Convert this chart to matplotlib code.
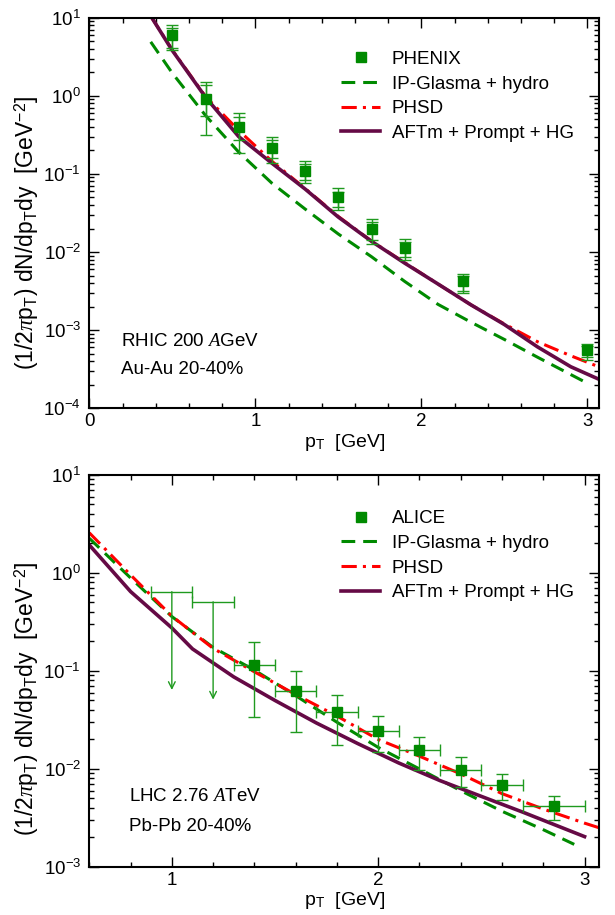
import numpy as np
import matplotlib
matplotlib.use('Agg')
import matplotlib.pyplot as plt
from matplotlib.ticker import LogLocator, MultipleLocator, NullFormatter
from matplotlib.lines import Line2D

plt.rcParams['font.family'] = ['Liberation Sans', 'DejaVu Sans']
plt.rcParams['mathtext.fontset'] = 'custom'
plt.rcParams['mathtext.rm'] = 'Liberation Sans'
plt.rcParams['mathtext.it'] = 'Liberation Serif:italic'
plt.rcParams['mathtext.bf'] = 'Liberation Sans:bold'
plt.rcParams['axes.unicode_minus'] = False

# ---- RHIC 200 AGeV, Au-Au 20-40% ----
phenix_pt = [0.5, 0.7, 0.9, 1.1, 1.3, 1.5, 1.7, 1.9, 2.25, 3.0]
phenix_y = [6.0, 0.90, 0.395, 0.217, 0.110, 0.050, 0.020, 0.0113, 0.0042, 5.6e-4]
phenix_stat_hi = [7.45, 1.37, 0.54, 0.27, 0.134, 0.059, 0.024, 0.0135, 0.0049, 6.3e-4]
phenix_stat_lo = [4.06, 0.55, 0.27, 0.158, 0.084, 0.038, 0.0144, 0.0086, 0.0032, 4.5e-4]
phenix_sys_hi = [8.05, 1.51, 0.607, 0.30, 0.147, 0.0656, 0.0267, 0.0148, 0.0053, 6.7e-4]
phenix_sys_lo = [3.86, 0.315, 0.184, 0.137, 0.076, 0.0345, 0.0126, 0.0079, 0.0030, 4.2e-4]

rhic_pt = [0.37, 0.5, 0.7, 0.9, 1.1, 1.3, 1.5, 1.7, 1.9, 2.1, 2.3, 2.5, 2.7, 2.9, 3.1]
rhic_aft = [10.5, 3.8, 0.96, 0.30, 0.137, 0.064, 0.028, 0.0137, 0.0072, 0.0039,
            0.0021, 0.00118, 6.1e-4, 3.4e-4, 2.2e-4]
rhic_phsd = [10.5, 3.85, 0.98, 0.36, 0.145, 0.065, 0.0285, 0.0138, 0.0073, 0.0039,
             0.0021, 0.0012, 7.1e-4, 4.7e-4, 3.2e-4]
rhic_ipg_pt = [0.37, 0.5, 0.7, 0.9, 1.1, 1.3, 1.5, 1.7, 1.9, 2.1, 2.3, 2.5, 2.7, 2.9, 2.98]
rhic_ipg = [4.9, 1.95, 0.56, 0.19, 0.076, 0.0355, 0.017, 0.0087, 0.0042, 0.00214,
            0.00126, 7.6e-4, 4.5e-4, 2.7e-4, 2.2e-4]

# ---- LHC 2.76 ATeV, Pb-Pb 20-40% ----
alice_pt = [1.4, 1.6, 1.8, 2.0, 2.2, 2.4, 2.6, 2.85]
alice_y = [0.116, 0.0627, 0.0377, 0.0245, 0.0155, 0.0097, 0.0068, 0.0042]
alice_hi = [0.199, 0.1005, 0.0566, 0.0348, 0.0213, 0.0133, 0.0088, 0.0053]
alice_lo = [0.034, 0.0236, 0.0175, 0.0149, 0.0097, 0.0066, 0.0048, 0.0030]
alice_xerr = [0.1, 0.1, 0.1, 0.1, 0.1, 0.1, 0.1, 0.15]
ul_pt = [1.0, 1.2]
ul_y = [0.644, 0.508]
ul_tip = [0.064, 0.051]
ul_xerr = [0.1, 0.1]

lhc_pt = [0.6, 0.8, 1.0, 1.2, 1.4, 1.6, 1.8, 2.0, 2.2, 2.4, 2.6, 2.8, 3.0, 3.1]
lhc_phsd = [2.57, 0.955, 0.363, 0.17, 0.098, 0.0575, 0.0347, 0.020, 0.0135, 0.0089,
            0.0056, 0.0039, 0.0028, 0.0024]
lhc_ipg_pt = [0.6, 0.8, 1.0, 1.2, 1.4, 1.6, 1.8, 2.0, 2.2, 2.4, 2.6, 2.8, 2.95]
lhc_ipg = [2.26, 0.89, 0.359, 0.174, 0.102, 0.056, 0.030, 0.0166, 0.010, 0.006,
           0.0037, 0.0024, 0.0017]
lhc_aft_pt = [0.6, 0.8, 1.0, 1.1, 1.3, 1.5, 1.7, 1.9, 2.1, 2.3, 2.5, 2.7, 3.0]
lhc_aft = [1.93, 0.646, 0.275, 0.168, 0.087, 0.050, 0.0295, 0.0182, 0.0115, 0.0076,
           0.00525, 0.00363, 0.00204]

c_green = '#008a00'
c_bar = '#1f9a1f'
c_red = '#ff0000'
c_purple = '#650a45'
ipg_ls = (0, (4.5, 2.6))
phsd_ls = (0, (5.0, 2.0, 1.0, 2.0))
fs = 13

fig = plt.figure(figsize=(6.15, 9.15), dpi=100)
ax1 = fig.add_axes([0.1452, 0.5538, 0.8288, 0.4269])
ax2 = fig.add_axes([0.1452, 0.0525, 0.8288, 0.4284])


def style(ax, x0, y0, y1, label_y):
    ax.set_yscale('log')
    ax.set_xlim(x0, 3.07)
    ax.set_ylim(y0, y1)
    ax.xaxis.set_major_locator(MultipleLocator(1))
    ax.xaxis.set_minor_locator(MultipleLocator(0.2))
    ax.yaxis.set_major_locator(LogLocator(base=10, numticks=20))
    ax.yaxis.set_minor_locator(LogLocator(base=10, subs=np.arange(2, 10), numticks=100))
    ax.yaxis.set_minor_formatter(NullFormatter())
    ax.tick_params(which='both', direction='in', top=True, right=True, width=1.0)
    ax.tick_params(which='major', length=7, labelsize=fs + 0.5)
    ax.tick_params(which='minor', length=3.5)
    ax.tick_params(axis='y', which='major', pad=6)
    for s in ax.spines.values():
        s.set_linewidth(1.5)
    ax.set_ylabel(r'(1/2$\pi$p$_\mathrm{T}$) dN/dp$_\mathrm{T}$dy  [GeV$^{-2}$]', fontsize=16.5)
    ax.yaxis.set_label_coords(-0.094, label_y)
    ax.set_xlabel(r'p$_\mathrm{T}$  [GeV]', fontsize=fs + 1, labelpad=1)


# top panel
style(ax1, 0, 1e-4, 10, 0.45)
ax1.plot(rhic_ipg_pt, rhic_ipg, color=c_green, lw=2.2, ls=ipg_ls)
ax1.plot(rhic_pt, rhic_phsd, color=c_red, lw=2.2, ls=phsd_ls)
ax1.plot(rhic_pt, rhic_aft, color=c_purple, lw=2.6)
y = np.array(phenix_y)
ax1.errorbar(phenix_pt, y, yerr=[y - np.array(phenix_sys_lo), np.array(phenix_sys_hi) - y],
             fmt='none', ecolor=c_bar, elinewidth=1, capsize=4, capthick=1, zorder=4)
ax1.errorbar(phenix_pt, y, yerr=[y - np.array(phenix_stat_lo), np.array(phenix_stat_hi) - y],
             fmt='none', ecolor=c_bar, elinewidth=1, capsize=4, capthick=1, zorder=4)
ax1.plot(phenix_pt, y, ls='none', marker='s', ms=7.5, color=c_green, zorder=5)
ax1.text(0.063, 0.172, r'RHIC 200 $A$GeV', transform=ax1.transAxes, fontsize=fs + 0.5, va='center')
ax1.text(0.063, 0.098, 'Au-Au 20-40%', transform=ax1.transAxes, fontsize=fs + 0.5, va='center')

# bottom panel
style(ax2, 0.6, 1e-3, 10, 0.43)
ax2.plot(lhc_ipg_pt, lhc_ipg, color=c_green, lw=2.2, ls=ipg_ls)
ax2.plot(lhc_pt, lhc_phsd, color=c_red, lw=2.2, ls=phsd_ls)
ax2.plot(lhc_aft_pt, lhc_aft, color=c_purple, lw=2.6)
ya = np.array(alice_y)
ax2.errorbar(alice_pt, ya, xerr=alice_xerr,
             yerr=[ya - np.array(alice_lo), np.array(alice_hi) - ya],
             fmt='none', ecolor=c_bar, elinewidth=1, capsize=4, capthick=1, zorder=4)
ax2.plot(alice_pt, ya, ls='none', marker='s', ms=7.5, color=c_green, zorder=5)
ax2.errorbar(ul_pt, ul_y, xerr=ul_xerr, fmt='none', ecolor=c_bar, elinewidth=1,
             capsize=4, capthick=1, zorder=4)
for xp, top, tip in zip(ul_pt, ul_y, ul_tip):
    ax2.annotate('', xy=(xp, tip), xytext=(xp, top),
                 arrowprops=dict(arrowstyle='->', color=c_bar, lw=1,
                                 shrinkA=0, shrinkB=0, mutation_scale=12))
ax2.text(0.078, 0.179, r'LHC 2.76 $A$TeV', transform=ax2.transAxes, fontsize=fs + 0.5, va='center')
ax2.text(0.078, 0.104, 'Pb-Pb 20-40%', transform=ax2.transAxes, fontsize=fs + 0.5, va='center')


def add_legend(ax, name, y_top):
    handles = [
        Line2D([], [], ls='none', marker='s', ms=7.5, color=c_green),
        Line2D([], [], color=c_green, lw=2.2, ls=ipg_ls),
        Line2D([], [], color=c_red, lw=2.2, ls=phsd_ls),
        Line2D([], [], color=c_purple, lw=2.6),
    ]
    labels = [name, 'IP-Glasma + hydro', 'PHSD', 'AFTm + Prompt + HG']
    ax.legend(handles, labels, loc='upper left', bbox_to_anchor=(0.494, y_top),
              frameon=False, fontsize=fs + 0.5, handlelength=2.1, handletextpad=0.6,
              labelspacing=0.4, borderpad=0, borderaxespad=0)


add_legend(ax1, 'PHENIX', 0.915)
add_legend(ax2, 'ALICE', 0.91)

fig.savefig('out.png', dpi=100)
